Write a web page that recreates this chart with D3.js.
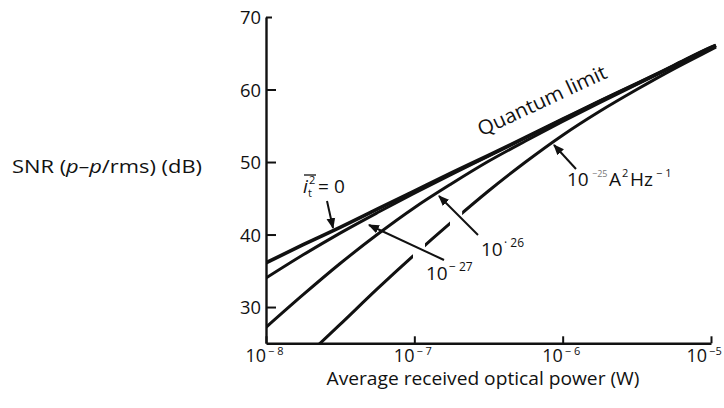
<!DOCTYPE html>
<html><head><meta charset="utf-8">
<script src="https://cdn.jsdelivr.net/npm/d3@7"></script>
<style>
body{margin:0;background:#fff}
text{font-family:'Open Sans',sans-serif;fill:#111}
</style>
</head><body>
<svg id="c" width="724" height="408"></svg>
<script>
// ---- data ----
const powers       = [1e-8, 1.78e-8, 3.16e-8, 5.62e-8, 1e-7, 1.78e-7, 3.16e-7, 5.62e-7, 1e-6, 1.78e-6, 3.16e-6, 5.62e-6, 1e-5, 1.08e-5];
const quantumLimit = [36.1, 38.6, 41.0, 43.5, 46.0, 48.5, 50.9, 53.4, 55.9, 58.4, 60.8, 63.3, 65.8, 66.1];
const noise27      = [34.0, 37.2, 40.2, 43.0, 45.7, 48.3, 50.8, 53.35, 55.9, 58.4, 60.8, 63.3, 65.8, 66.1];
const noise26      = [27.2, 31.7, 36.0, 40.0, 43.7, 47.0, 50.1, 52.9, 55.6, 58.2, 60.7, 63.2, 65.7, 66.0];
const noise25      = [null, 22.8, 27.6, 32.5, 37.2, 41.7, 46.0, 50.0, 53.7, 57.0, 60.0, 62.85, 65.5, 65.85];
const noise25Gaps  = [[9.8e-8, 1.18e-7], [1.74e-7, 2.1e-7]];
const yTicks = [30, 40, 50, 60, 70];
const xTicks = [1e-8, 1e-7, 1e-6, 1e-5];
const xTickExponents = ["− 8", "− 7", "− 6", "−5"];

// ---- chart ----
const svg = d3.select("#c");
const x = d3.scaleLog().domain([1e-8, 1e-5]).range([266, 711]);
const y = d3.scaleLinear().domain([25, 70]).range([343.3, 17]);
const FONT = "'Open Sans',sans-serif";

const defs = svg.append("defs");
defs.append("clipPath").attr("id", "plot").append("rect")
  .attr("x", x(1e-8)).attr("y", 0).attr("width", 724 - x(1e-8)).attr("height", y(25));
const gapClip = defs.append("clipPath").attr("id", "gapped");
const bounds = [1e-8, ...noise25Gaps.flat(), 2e-5];
for (let i = 0; i < bounds.length; i += 2) {
  gapClip.append("rect").attr("x", x(bounds[i])).attr("y", 0)
    .attr("width", x(bounds[i + 1]) - x(bounds[i])).attr("height", y(25));
}
defs.append("marker").attr("id", "arr").attr("viewBox", "0 0 10 10")
  .attr("refX", 9).attr("refY", 5).attr("markerWidth", 11).attr("markerHeight", 11)
  .attr("markerUnits", "userSpaceOnUse").attr("orient", "auto")
  .append("path").attr("d", "M0,1 L10,5 L0,9 Z").attr("fill", "#111");

// axes
const yAxis = d3.axisLeft(y).tickValues(yTicks).tickSizeInner(-10).tickSizeOuter(0).tickPadding(5).tickFormat(d3.format("d"));
const gy = svg.append("g").attr("transform", `translate(${x(1e-8)},0)`).call(yAxis);
gy.select(".domain").attr("stroke-width", 2.4).attr("stroke", "#111");
gy.selectAll(".tick line").attr("stroke-width", 2).attr("stroke", "#111");
gy.selectAll(".tick").filter(d => d === 70).select("line").attr("x2", 6);
gy.selectAll(".tick text").attr("font-size", 19).attr("font-family", FONT).attr("fill", "#111")
  .attr("dy", "0.36em").attr("textLength", 21).attr("lengthAdjust", "spacingAndGlyphs");

const xAxis = d3.axisBottom(x).tickValues(xTicks).tickSizeInner(-7).tickSizeOuter(0).tickPadding(6).tickFormat(() => "");
const gx = svg.append("g").attr("transform", `translate(0,${y(25)})`).call(xAxis);
gx.select(".domain").attr("stroke-width", 2.4).attr("stroke", "#111");
gx.selectAll(".tick line").attr("stroke-width", 2).attr("stroke", "#111");
gx.selectAll(".tick text").each(function(d, i) {
  const t = d3.select(this).attr("text-anchor", "start").attr("x", i === xTicks.length - 1 ? -25 : -21)
    .attr("font-size", 18).attr("font-family", FONT).attr("fill", "#111");
  t.append("tspan").text("10");
  t.append("tspan").attr("font-size", 11).attr("dy", "-0.6em").attr("dx", 2).text(xTickExponents[i]);
});

// curves
const line = d3.line().defined(d => d[1] != null).x(d => x(d[0])).y(d => y(d[1])).curve(d3.curveMonotoneX);
const series = [
  {v: quantumLimit, w: 3.6},
  {v: noise27, w: 3.0},
  {v: noise26, w: 3.0},
];
const plotG = svg.append("g").attr("clip-path", "url(#plot)");
series.forEach(s => {
  plotG.append("path").datum(powers.map((p, i) => [p, s.v[i]]))
    .attr("d", line).attr("fill", "none").attr("stroke", "#111").attr("stroke-width", s.w).attr("stroke-linejoin", "round");
});
plotG.append("g").attr("clip-path", "url(#gapped)").append("path")
  .datum(powers.map((p, i) => [p, noise25[i]]))
  .attr("d", line).attr("fill", "none").attr("stroke", "#111").attr("stroke-width", 3.0);

// annotations
function arrow(x1, y1, x2, y2) {
  svg.append("line").attr("x1", x1).attr("y1", y1).attr("x2", x2).attr("y2", y2)
    .attr("stroke", "#111").attr("stroke-width", 2).attr("marker-end", "url(#arr)");
}
// mean-square thermal noise = 0
const it = svg.append("text").attr("y", 193).attr("font-size", 19);
it.append("tspan").attr("x", 303).attr("font-style", "italic").text("i");
it.append("tspan").attr("x", 309).attr("font-size", 11).attr("dy", -9).text("2");
it.append("tspan").attr("x", 308).attr("font-size", 11).attr("dy", 13).text("t");
it.append("tspan").attr("x", 318).attr("dy", -4).text("=");
it.append("tspan").attr("x", 334).text("0");
svg.append("line").attr("x1", 304).attr("x2", 316).attr("y1", 175).attr("y2", 175).attr("stroke", "#111").attr("stroke-width", 1.3);
arrow(327, 201, 333, 228);

// 10^-27
const t27 = svg.append("text").attr("y", 280).attr("font-size", 19);
t27.append("tspan").attr("x", 426).text("10");
t27.append("tspan").attr("x", 449).attr("font-size", 12).attr("dy", -9).text("− 27");
arrow(444, 260, 369, 225);

// 10^-26
const t26 = svg.append("text").attr("y", 256).attr("font-size", 19);
t26.append("tspan").attr("x", 481).text("10");
t26.append("tspan").attr("x", 504).attr("font-size", 12).attr("dy", -9).text("· 26");
arrow(478, 235, 439, 196);

// 10^-25 A^2 Hz^-1
const t25 = svg.append("text").attr("y", 186).attr("font-size", 19);
t25.append("tspan").attr("x", 567).text("10");
t25.append("tspan").attr("x", 592).attr("font-size", 9).attr("dy", -9).attr("fill", "#777").text("−25");
t25.append("tspan").attr("x", 609).attr("dy", 9).text("A");
t25.append("tspan").attr("x", 622).attr("font-size", 11).attr("dy", -9).text("2");
t25.append("tspan").attr("x", 630).attr("dy", 9).text("Hz");
t25.append("tspan").attr("x", 656).attr("font-size", 11).attr("dy", -9).text("− 1");
arrow(576, 169, 554, 145);

// Quantum limit
svg.append("text").attr("transform", "translate(545,107) rotate(-25)")
  .attr("text-anchor", "middle").attr("font-size", 20)
  .attr("textLength", 140).attr("lengthAdjust", "spacingAndGlyphs").text("Quantum limit");

// axis titles
const yt = svg.append("text").attr("x", 12).attr("y", 173).attr("font-size", 19)
  .attr("textLength", 190).attr("lengthAdjust", "spacingAndGlyphs");
yt.append("tspan").text("SNR (");
yt.append("tspan").attr("font-style", "italic").text("p–p");
yt.append("tspan").text("/rms) (dB)");
svg.append("text").attr("x", 483).attr("y", 385).attr("text-anchor", "middle").attr("font-size", 19)
  .attr("textLength", 313).attr("lengthAdjust", "spacingAndGlyphs")
  .text("Average received optical power (W)");
</script>
</body></html>
